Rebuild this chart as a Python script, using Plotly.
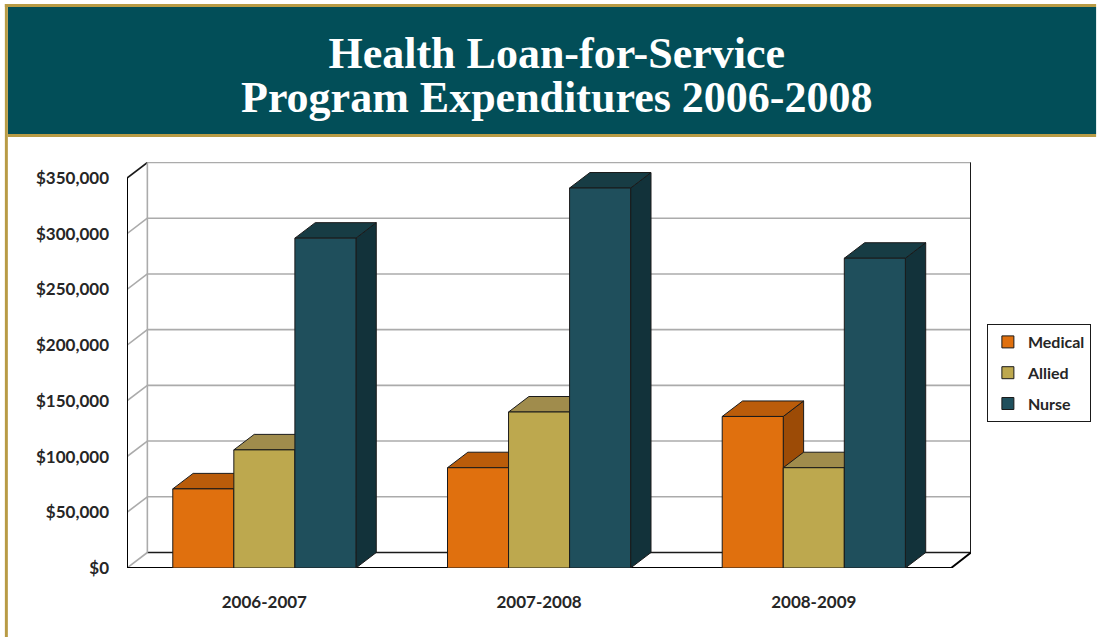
import plotly.graph_objects as go

# Program expenditures by fiscal year
categories = ["2006-2007", "2007-2008", "2008-2009"]
medical = [71000, 90000, 136000]
allied = [106000, 140000, 90000]
nurse = [296000, 341000, 278000]

series_names = ["Medical", "Allied", "Nurse"]
tick_values = [0, 50000, 100000, 150000, 200000, 250000, 300000, 350000]
tick_labels = ["$0", "$50,000", "$100,000", "$150,000", "$200,000",
               "$250,000", "$300,000", "$350,000"]
title_lines = ["Health Loan-for-Service", "Program Expenditures 2006-2008"]

# face colours: front, top, side
front_colors = ["#E0700E", "#BDA84E", "#1F4F5C"]
top_colors = ["#BA5C0A", "#A08C4C", "#173C44"]
side_colors = ["#9C4B06", "#857232", "#12323A"]
edge = "#1A1A1A"

# page / plot geometry (pixels)
W, H = 1103, 637
L, R, T, B = 127, 977, 162, 568
y_max = 350000
front_h = 390.0                 # pixel height of 0..350000 on the front plane
depth_px = (20.5, 15.5)         # oblique depth offset of the 3-D box
n_cat = len(categories)
front_w = 830.0
x_unit = front_w / n_cat        # pixels per category band
dxu = depth_px[0] / x_unit
dyu = depth_px[1] / front_h * y_max
y_top = (B - T) / front_h * y_max
x_top = n_cat * (R - L) / front_w


def px(xp):
    return (xp - L) / (R - L)


def py(yp):
    return (B - yp) / (B - T)


bar_w = 2.0 / 9.0
series = [medical, allied, nurse]

fig = go.Figure()
shapes = []

# walls and floor of the 3-D frame
grid_col = "#ABABAB"
for v in tick_values:
    back_col = edge if v == 0 else grid_col
    shapes.append(dict(type="line", xref="x", yref="y", layer="below",
                       x0=dxu, y0=v + dyu, x1=x_top, y1=v + dyu,
                       line=dict(color=back_col, width=1.6)))
    diag_col = edge if v == y_max else grid_col
    shapes.append(dict(type="line", xref="x", yref="y", layer="below",
                       x0=0, y0=v, x1=dxu, y1=v + dyu,
                       line=dict(color=diag_col, width=1.6)))
shapes.append(dict(type="line", xref="x", yref="y", layer="below",
                   x0=dxu, y0=dyu, x1=dxu, y1=y_max + dyu,
                   line=dict(color=grid_col, width=1.6)))
shapes.append(dict(type="line", xref="x", yref="y", layer="below",
                   x0=x_top, y0=dyu, x1=x_top, y1=y_max + dyu,
                   line=dict(color=edge, width=2)))
shapes.append(dict(type="line", xref="x", yref="y", layer="below",
                   x0=0, y0=0, x1=0, y1=y_max,
                   line=dict(color="#000000", width=2)))
shapes.append(dict(type="line", xref="x", yref="y", layer="below",
                   x0=0, y0=0, x1=n_cat, y1=0,
                   line=dict(color="#000000", width=2)))
shapes.append(dict(type="line", xref="x", yref="y", layer="below",
                   x0=n_cat, y0=0, x1=x_top, y1=dyu,
                   line=dict(color="#000000", width=2)))

# top and side faces of each column (drawn beneath the front faces)
for i in range(n_cat):
    for j, vals in enumerate(series):
        v = vals[i]
        x0 = i + 0.5 - 1.0 / 3.0 + j * bar_w
        x1 = x0 + bar_w
        side = (f"M{x1},0 L{x1 + dxu},{dyu} L{x1 + dxu},{v + dyu} "
                f"L{x1},{v} Z")
        top = (f"M{x0},{v} L{x1},{v} L{x1 + dxu},{v + dyu} "
               f"L{x0 + dxu},{v + dyu} Z")
        shapes.append(dict(type="path", xref="x", yref="y", layer="below",
                           path=side, fillcolor=side_colors[j],
                           line=dict(color=edge, width=1)))
        shapes.append(dict(type="path", xref="x", yref="y", layer="below",
                           path=top, fillcolor=top_colors[j],
                           line=dict(color=edge, width=1)))

# front faces
centers = [i + 0.5 for i in range(n_cat)]
for j, (name, vals) in enumerate(zip(series_names, series)):
    fig.add_trace(go.Bar(
        x=centers, y=vals, name=name,
        width=bar_w, offset=-1.0 / 3.0 + j * bar_w,
        marker=dict(color=front_colors[j], line=dict(color=edge, width=1)),
        legendgroup=name,
    ))

# header band
teal = "#024E58"
gold = "#B89B45"
shapes.append(dict(type="rect", xref="paper", yref="paper", layer="below",
                   x0=px(7), x1=px(W), y0=py(134), y1=py(7),
                   fillcolor=teal, line=dict(width=0)))
shapes.append(dict(type="rect", xref="paper", yref="paper", layer="below",
                   x0=px(4), x1=px(W), y0=py(7), y1=py(4),
                   fillcolor=gold, line=dict(width=0)))
shapes.append(dict(type="rect", xref="paper", yref="paper", layer="below",
                   x0=px(7), x1=px(W), y0=py(137), y1=py(134),
                   fillcolor=gold, line=dict(width=0)))
shapes.append(dict(type="rect", xref="paper", yref="paper", layer="below",
                   x0=px(4), x1=px(7), y0=py(H), y1=py(4),
                   fillcolor=gold, line=dict(width=0)))

# two-line heading: base size sets the line pitch, spans set glyph size
title_text = "<br>".join(
    f"<span style='font-size:44px'>{line}</span>" for line in title_lines)
annotations = [
    dict(text=title_text, x=px(560), y=py(75),
         xref="paper", yref="paper", showarrow=False,
         font=dict(family="Liberation Serif", size=34, color="white",
                   weight="bold"),
         xanchor="center", yanchor="middle", align="center"),
]

label_font = dict(family="Lato", size=17, color="#262626", weight="bold")

fig.update_layout(
    width=W, height=H, autosize=False,
    margin=dict(l=L, r=W - R, t=T, b=H - B, pad=0),
    paper_bgcolor="white", plot_bgcolor="white",
    barmode="overlay",
    shapes=shapes, annotations=annotations,
    showlegend=True,
    legend=dict(x=px(993), y=py(324), xanchor="left", yanchor="top",
                bordercolor=edge, borderwidth=1, bgcolor="white",
                font=dict(family="Lato", size=16, color="#262626",
                          weight="bold"),
                tracegroupgap=7, traceorder="grouped"),
    xaxis=dict(range=[0, x_top], showgrid=False, zeroline=False,
               showline=False, tickmode="array", tickvals=centers,
               ticktext=categories, ticks="", tickfont=label_font,
               ticklabelstandoff=22, fixedrange=True),
    yaxis=dict(range=[0, y_top], showgrid=False, zeroline=False,
               showline=False, tickmode="array", tickvals=tick_values,
               ticktext=tick_labels, ticks="", tickfont=label_font,
               ticklabelstandoff=17, fixedrange=True),
)

fig.write_html("out.html")
